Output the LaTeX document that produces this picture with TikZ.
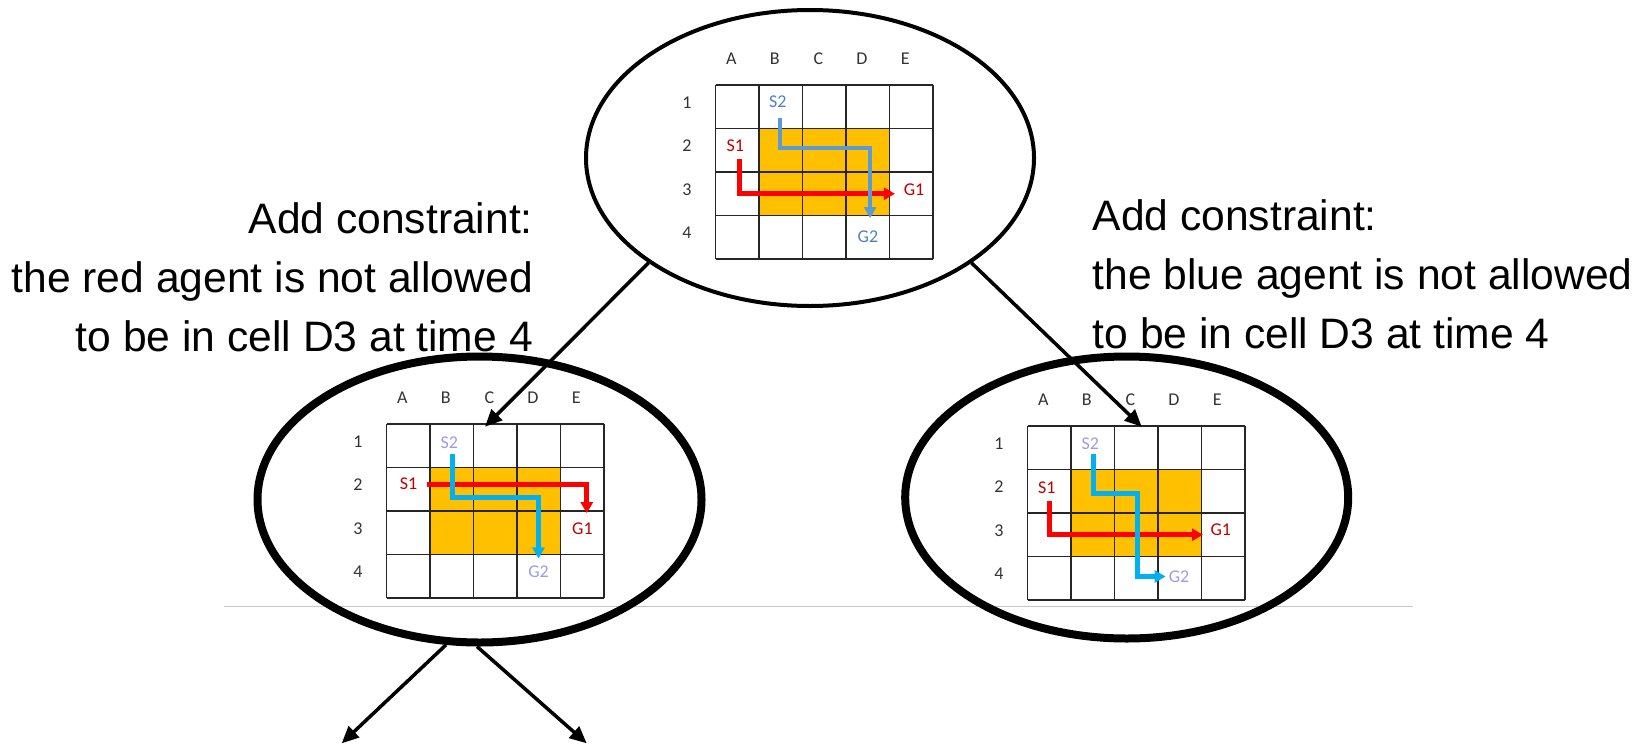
\documentclass[tikz,border=0pt]{standalone}
\usepackage{fontspec}
\setmainfont{Liberation Sans}
\newfontfamily\gridfont{Carlito}
\usetikzlibrary{shapes.geometric, arrows.meta}
\definecolor{blockcell}{HTML}{FFC000}
\definecolor{redpath}{HTML}{FF0000}
\definecolor{redlabel}{HTML}{C00000}
\definecolor{bluepath}{HTML}{5B9BD5}
\definecolor{bluelabel}{HTML}{4F81BD}
\definecolor{cyanpath}{HTML}{00B0F0}
\definecolor{lilaclabel}{HTML}{9C9CE6}
\tikzset{
  gridline/.style={line width=1.5pt, black!85},
  axislabel/.style={font=\gridfont\fontsize{18}{18}\selectfont, inner sep=0pt, text=black!80},
  agentlabel/.style={font=\gridfont\fontsize{18}{18}\selectfont, inner sep=0pt},
  redroute/.style={redpath, line width=5pt, -{Triangle[length=11pt,width=12pt]}},
  blueroute/.style={bluepath, line width=4pt, -{Triangle[length=11pt,width=12pt]}},
  cyanroute/.style={cyanpath, line width=5pt, -{Triangle[length=11pt,width=12pt]}},
  treenode/.style={ellipse, draw, inner sep=0pt},
  branch/.style={line width=3.5pt, -{Triangle[length=17pt,width=15pt]}},
  constraint/.style={font=\fontsize{42.6}{58.8}\selectfont, inner sep=0pt},
}
% 5x4 map with the blocked 3x2 block, letters on top, numbers at the side
\newcommand{\cbsgrid}[1]{%
  \fill[blockcell] (1,1) rectangle (4,3);
  \foreach \col in {0,...,5} \draw[gridline] (\col,0) -- (\col,4);
  \foreach \row in {0,...,4} \draw[gridline] (0,\row) -- (5,\row);
  \foreach \c [count=\i] in {A,B,C,D,E}
    \node[axislabel] (#1-\c) at (\i-0.64,-0.6) {\c};
  \foreach \row in {1,...,4}
    \node[axislabel] (#1-\row) at (-0.66,\row-0.6) {\row};
}

\begin{document}
\begin{tikzpicture}[x=1pt, y=-1pt]
  \useasboundingbox (0,0) rectangle (1637,745);

  \draw[gray!45, line width=1.2pt] (224,606.7) -- (1413,606.7);

  % constraint tree
  \node[treenode, line width=4pt, minimum width=448pt, minimum height=296pt] (root) at (810,158) {};
  \node[treenode, line width=8pt, minimum width=444pt, minimum height=286pt] (leftchild) at (479.5,499.5) {};
  \node[treenode, line width=8pt, minimum width=443pt, minimum height=282pt] (rightchild) at (1126.7,497.5) {};

  % root: both agents pass D3 at time 4
  \begin{scope}[shift={(715.7,85)}, x=43.5pt, y=-43.5pt]
    \cbsgrid{top}
    \draw[redroute] (0.54,1.70) -- (0.54,2.5) -- (4.12,2.5);
    \draw[blueroute] (1.48,0.76) -- (1.48,1.45) -- (3.55,1.45) -- (3.55,3.06);
    \node[agentlabel, text=redlabel] (top-s1) at (0.45,1.40) {S1};
    \node[agentlabel, text=redlabel] (top-g1) at (4.56,2.41) {G1};
    \node[agentlabel, text=bluelabel] (top-s2) at (1.43,0.39) {S2};
    \node[agentlabel, text=bluelabel] (top-g2) at (3.50,3.49) {G2};
  \end{scope}

  % red agent replanned
  \begin{scope}[shift={(386.7,424)}, x=43.5pt, y=-43.5pt]
    \cbsgrid{left}
    \draw[redroute] (0.92,1.38) -- (4.6,1.38) -- (4.6,2.05);
    \draw[cyanroute] (1.52,0.69) -- (1.52,1.69) -- (3.49,1.69) -- (3.49,3.09);
    \node[agentlabel, text=redlabel] (left-s1) at (0.50,1.38) {S1};
    \node[agentlabel, text=redlabel] (left-g1) at (4.50,2.40) {G1};
    \node[agentlabel, text=lilaclabel] (left-s2) at (1.44,0.43) {S2};
    \node[agentlabel, text=lilaclabel] (left-g2) at (3.49,3.40) {G2};
  \end{scope}

  % blue agent replanned
  \begin{scope}[shift={(1027.7,426)}, x=43.5pt, y=-43.5pt]
    \cbsgrid{right}
    \draw[redroute] (0.51,1.72) -- (0.51,2.5) -- (4.03,2.5);
    \draw[cyanroute] (1.52,0.64) -- (1.52,1.55) -- (2.53,1.55) -- (2.53,3.46) -- (3.17,3.46);
    \node[agentlabel, text=redlabel] (right-s1) at (0.44,1.41) {S1};
    \node[agentlabel, text=redlabel] (right-g1) at (4.44,2.38) {G1};
    \node[agentlabel, text=lilaclabel] (right-s2) at (1.44,0.40) {S2};
    \node[agentlabel, text=lilaclabel] (right-g2) at (3.48,3.46) {G2};
  \end{scope}

  \node[constraint, align=right, anchor=base east] (redrule) at (533,351)
    {Add constraint:\\the red agent is not allowed\\to be in cell D3 at time 4};
  \node[constraint, align=left, anchor=base west] (bluerule) at (1092.5,348)
    {Add constraint:\\the blue agent is not allowed\\to be in cell D3 at time 4};

  \coordinate (leftin) at (485,426.7);
  \coordinate (rightin) at (1141.7,426.7);
  \coordinate (leftout) at (341.7,743.3);
  \coordinate (rightout) at (586.7,743.3);
  \draw[branch] (root.213) -- (leftin);
  \draw[branch] (root.327.5) -- (rightin);
  \draw[branch] (leftchild.257.4) -- (leftout);
  \draw[branch] (leftchild.269.8) -- (rightout);
\end{tikzpicture}
\end{document}
